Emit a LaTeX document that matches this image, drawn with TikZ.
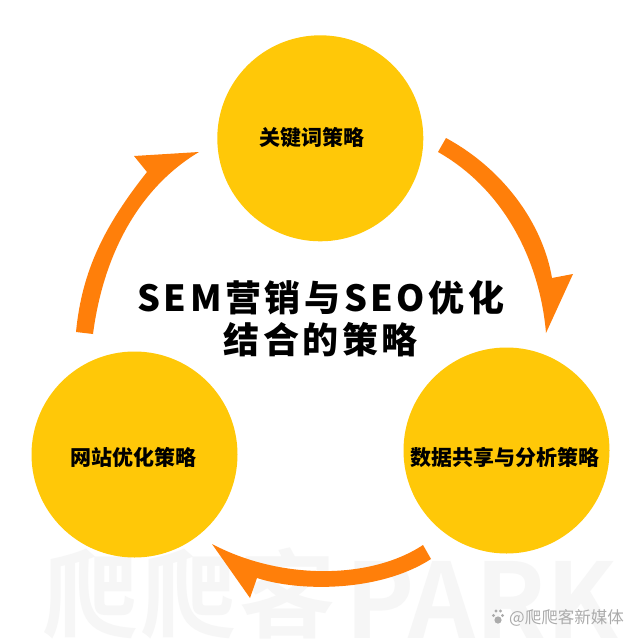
\documentclass[tikz,border=0pt]{standalone}
\usepackage{fontspec}
\newfontfamily\cjkb{Noto Sans CJK SC Black}
\newfontfamily\cjkm{Noto Sans CJK SC Bold}
\newfontfamily\cjkr{Noto Sans CJK SC}
\definecolor{hub}{HTML}{FFC808}
\definecolor{arr}{HTML}{FF7F0A}
\definecolor{wm}{HTML}{F6F6F6}
\definecolor{wm2}{HTML}{ABABAB}
\tikzset{
  hubnode/.style={circle,fill=hub,minimum size=206pt,inner sep=0pt},
  hublabel/.style={text=black,inner sep=0pt,font=\cjkb\fontsize{21}{24}\selectfont},
  arrowshape/.style={fill=arr,draw=none},
  wmark/.style={text=wm,inner sep=0pt},
  titletext/.style={text=black,inner sep=0pt,font=\cjkb\fontsize{36}{40}\selectfont\addfontfeature{LetterSpace=10}}
}
\begin{document}
\begin{tikzpicture}[x=1pt,y=-1pt]
\useasboundingbox (0,0) rectangle (640,640);
\fill[white] (0,0) rectangle (640,640);
\node[wmark,anchor=base west,font=\cjkm\fontsize{96}{96}\selectfont\addfontfeature{LetterSpace=3}] (wmcn) at (42,630) {爬爬客};
\node[wmark,anchor=base west,font=\cjkm\fontsize{104}{104}\selectfont] (wmen) at (345,638) {PARK};
\node[hubnode] (top) at (320.3,138.3) {};
\node[hubnode] (left) at (134.5,454.5) {};
\node[hubnode] (right) at (506.5,450.5) {};
\node[hublabel] (toptext) at (311.5,138) {关键词策略};
\node[hublabel] (lefttext) at (133,457) {网站优化策略};
\node[hublabel] (righttext) at (505,457) {数据共享与分析策略};
\node[titletext] (headA) at (320.8,297.5) {SEM营销与SEO优化};
\node[titletext] (headB) at (320.8,340) {结合的策略};
% left arrow
\fill[arrowshape] (76,332) .. controls (82,270) and (105,225) .. (147,172) -- (134,156) -- (199,152) .. controls (142,186) and (104,250) .. (93,334) -- cycle;
% right arrow
\fill[arrowshape] (446,138) .. controls (505,170) and (543,225) .. (552,278) -- (573,274) -- (546,333) .. controls (540,262) and (505,190) .. (438,152) -- cycle;
% bottom arrow
\fill[arrowshape] (423,545) .. controls (370,580) and (280,580) .. (212,544) -- (250,598) -- (257,578) .. controls (300,592) and (380,592) .. (431,559) -- cycle;
% credit
\node[text=wm2,inner sep=0pt,anchor=west,font=\cjkr\fontsize{16.5}{18}\selectfont] (credit) at (509,618) {@爬爬客新媒体};
\fill[wm2] (498,620) circle (3.6) (493.5,615.5) circle (1.6) (502.5,615.5) circle (1.6) (496,611) circle (1.7) (500.5,611) circle (1.7);
\end{tikzpicture}
\end{document}
